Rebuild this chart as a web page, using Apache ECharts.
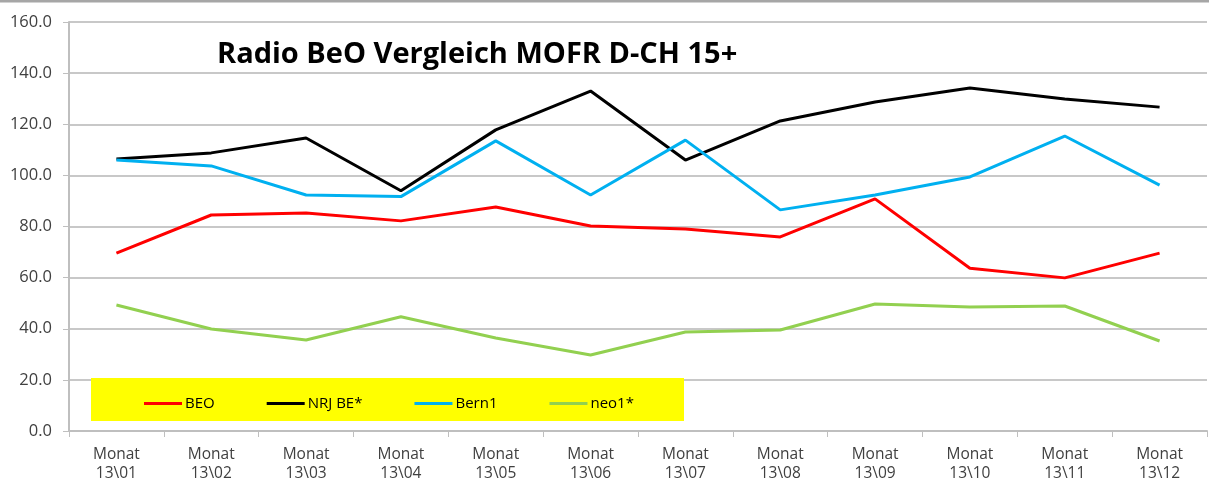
<!DOCTYPE html>
<html>
<head>
<meta charset="utf-8">
<script src="https://cdn.jsdelivr.net/npm/echarts@6/dist/echarts.min.js"></script>
<style>
  html, body { margin: 0; padding: 0; background: #fff; }
  #chart { width: 1209px; height: 482px; }
</style>
</head>
<body>
<div id="chart"></div>
<script>
var months = ['Monat\n13\\01', 'Monat\n13\\02', 'Monat\n13\\03', 'Monat\n13\\04', 'Monat\n13\\05', 'Monat\n13\\06',
              'Monat\n13\\07', 'Monat\n13\\08', 'Monat\n13\\09', 'Monat\n13\\10', 'Monat\n13\\11', 'Monat\n13\\12'];
var beo   = [69.6, 84.5, 85.3, 82.2, 87.6, 80.2, 79.0, 75.9, 90.8, 63.7, 59.9, 69.6];
var nrj   = [106.4, 108.8, 114.6, 94.0, 117.8, 133.0, 106.0, 121.3, 128.7, 134.2, 129.9, 126.7];
var bern1 = [106.0, 103.7, 92.3, 91.7, 113.5, 92.3, 113.8, 86.5, 92.3, 99.4, 115.4, 96.2];
var neo1  = [49.3, 39.9, 35.6, 44.7, 36.4, 29.7, 38.7, 39.5, 49.7, 48.5, 48.9, 35.2];

var chart = echarts.init(document.getElementById('chart'));

function mkLine(name, data, color){
  return {
    name: name,
    type: 'line',
    data: data,
    symbol: 'none',
    lineStyle: { color: color, width: 3 },
    itemStyle: { color: color }
  };
}

chart.setOption({
  animation: false,
  grid: { left: 69, right: 2, top: 22, bottom: 51, outerBoundsMode: 'none' },
  title: {
    text: 'Radio BeO Vergleich MOFR D-CH 15+',
    left: 212, top: 35,
    textStyle: { fontFamily: 'Open Sans', fontWeight: 'bold', fontSize: 29, color: '#000' }
  },
  graphic: [
    { type: 'rect', left: 91, top: 378, shape: { width: 593, height: 43 }, style: { fill: '#ffff00' }, z: 1 },
    { type: 'line', shape: { x1: 0, y1: 1, x2: 1209, y2: 1 }, style: { stroke: '#a6a6a6', lineWidth: 3 } }
  ],
  legend: {
    left: 139, top: 391,
    icon: 'rect',
    itemWidth: 38, itemHeight: 3,
    itemGap: 52,
    z: 5,
    textStyle: { fontFamily: 'Open Sans', fontSize: 15, color: '#000', padding: [0, 0, 0, -2] },
    data: ['BEO', 'NRJ BE*', 'Bern1', 'neo1*']
  },
  xAxis: {
    type: 'category',
    data: months,
    boundaryGap: true,
    axisLine: { lineStyle: { color: '#bfbfbf', width: 2 } },
    axisTick: { show: true, length: 6, lineStyle: { color: '#bfbfbf', width: 1 } },
    axisLabel: { fontFamily: 'Open Sans', fontSize: 15.5, color: '#404040', lineHeight: 19, margin: 14 }
  },
  yAxis: {
    type: 'value',
    min: 0, max: 160, interval: 20,
    axisLine: { show: true, lineStyle: { color: '#bfbfbf', width: 2 } },
    axisTick: { show: true, length: 6, lineStyle: { color: '#bfbfbf' } },
    splitLine: { lineStyle: { color: '#c8c8c8', width: 2 } },
    axisLabel: {
      fontFamily: 'Open Sans', fontSize: 16.5, color: '#404040', margin: 17,
      formatter: function(v){ return v.toFixed(1); }
    }
  },
  series: [
    mkLine('BEO', beo, '#ff0000'),
    mkLine('NRJ BE*', nrj, '#000000'),
    mkLine('Bern1', bern1, '#00b0f0'),
    mkLine('neo1*', neo1, '#92d050')
  ]
});
</script>
</body>
</html>
